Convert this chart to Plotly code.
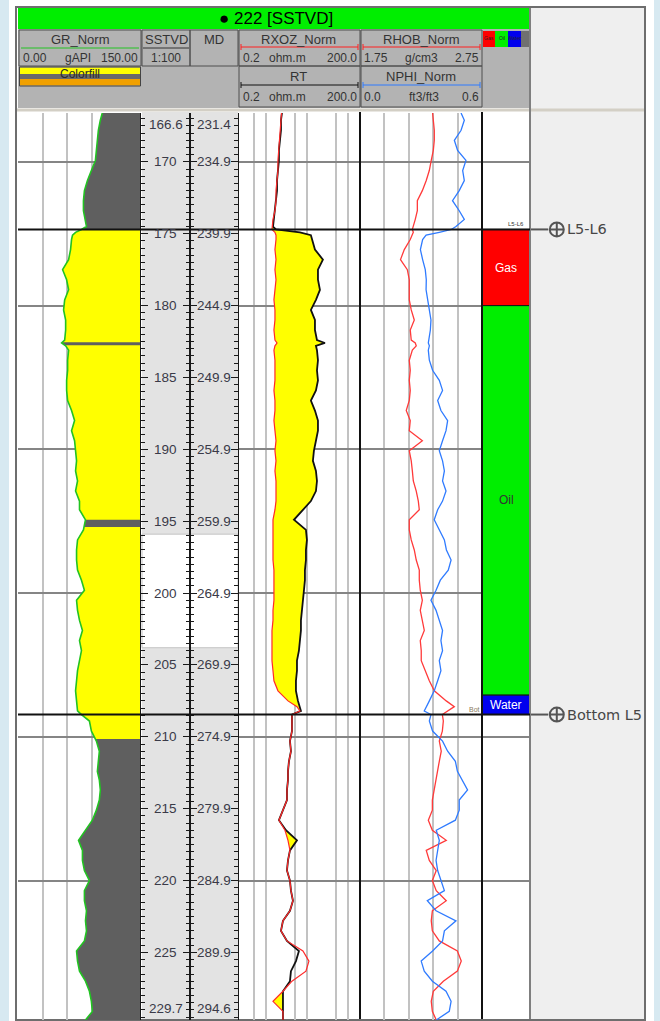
import numpy as np
import plotly.graph_objects as go

W, H = 660, 1021
FONT = "Liberation Sans, Arial, sans-serif"
TXT = "#333333"

# ---------------- log samples (SSTVD, m) ----------------
DEPTH = [166.6, 167.1, 167.8, 168.5, 169.2, 169.9, 170.6, 171.3, 172.0, 172.7,
         173.4, 174.0, 174.5, 174.7, 174.9, 175.1, 175.4, 176.1, 176.8, 177.5,
         178.2, 178.9, 179.6, 180.3, 181.0, 181.7, 182.4, 182.6, 182.8, 183.1,
         183.8, 184.5, 185.2, 185.9, 186.6, 187.3, 188.0, 188.7, 189.4, 190.1,
         190.8, 191.5, 192.2, 192.9, 193.6, 194.2, 194.9, 195.6, 196.3, 197.0,
         197.7, 198.4, 199.1, 199.8, 200.5, 201.2, 201.9, 202.6, 203.3, 204.0,
         204.7, 205.4, 206.1, 206.8, 207.5, 207.9, 208.2, 208.45, 208.9, 209.6,
         210.3, 211.0, 211.7, 212.4, 213.0, 213.7, 214.4, 215.1, 215.8, 216.5,
         217.2, 217.9, 218.6, 219.3, 220.0, 220.7, 221.4, 222.1, 222.8, 223.5,
         224.2, 224.9, 225.6, 226.3, 227.0, 227.7, 228.4, 229.1, 229.7]

GR = [102.8, 100.4, 98.0, 96.8, 95.6, 94.4, 89.5, 84.7, 81.0, 79.8,
      79.8, 82.3, 83.5, 77.4, 70.2, 66.5, 65.3, 64.1, 61.7, 54.4,
      59.3, 61.7, 56.9, 55.6, 58.1, 58.1, 56.9, 53.2, 58.1, 61.7,
      60.5, 60.5, 59.3, 59.3, 60.5, 65.3, 69.0, 65.3, 69.0, 70.2,
      71.4, 70.2, 72.6, 70.2, 75.0, 75.0, 82.3, 79.8, 72.6, 71.4,
      71.4, 72.6, 77.4, 81.0, 71.4, 72.6, 75.0, 78.6, 75.0, 77.4,
      75.0, 72.6, 71.4, 70.2, 71.4, 72.6, 72.6, 77.4, 87.1, 89.5,
      95.6, 99.2, 98.0, 96.8, 99.2, 100.4, 99.2, 95.6, 90.7, 82.3,
      73.8, 78.6, 78.6, 81.0, 87.1, 81.0, 81.0, 83.5, 82.3, 83.5,
      81.0, 71.4, 72.6, 75.0, 82.3, 87.1, 89.5, 90.7, 82.3]

RXOZ = [2.35, 2.28, 2.15, 2.15, 2.03, 1.92, 1.92, 1.82, 1.72, 1.72,
        1.62, 1.45, 1.37, 1.37, 1.62, 1.72, 1.72, 1.62, 1.72, 1.62,
        1.72, 1.62, 1.53, 1.62, 1.62, 1.53, 1.62, 1.82, 1.62, 1.53,
        1.62, 1.62, 1.62, 1.53, 1.62, 1.62, 1.53, 1.62, 1.72, 1.62,
        1.72, 1.62, 1.72, 1.72, 1.72, 1.62, 1.45, 1.45, 1.45, 1.45,
        1.45, 1.53, 1.53, 1.53, 1.53, 1.45, 1.45, 1.37, 1.37, 1.37,
        1.37, 1.45, 1.53, 1.92, 3.39, 5.64, 6.67, 4.24, 4.24, 4.24,
        3.79, 4.01, 3.58, 3.39, 3.39, 3.2, 3.2, 2.55, 2.03, 2.86,
        3.39, 3.79, 3.39, 3.2, 3.79, 4.01, 4.49, 3.79, 2.55, 2.28,
        3.2, 7.91, 11.1, 9.37, 4.24, 2.55, 1.45, 2.55, 2.55]

RT = [2.41, 2.28, 2.28, 2.15, 2.03, 2.03, 1.92, 1.82, 1.82, 1.72,
      1.62, 1.53, 1.45, 1.72, 6.67, 12.4, 13.2, 15.6, 24.5, 18.5,
      18.5, 20.7, 16.5, 12.4, 15.6, 15.6, 17.5, 27.5, 16.5, 17.5,
      18.5, 17.5, 18.5, 16.5, 12.4, 15.6, 18.5, 18.5, 16.5, 14.7,
      13.9, 16.5, 17.5, 16.5, 12.4, 7.91, 4.75, 9.37, 9.91, 9.37,
      9.37, 8.85, 8.85, 8.37, 7.91, 7.47, 7.06, 7.06, 6.67, 6.3,
      5.64, 5.64, 5.32, 5.32, 5.96, 6.67, 7.06, 4.24, 4.24, 4.24,
      3.79, 4.01, 3.58, 3.39, 3.39, 3.2, 3.2, 2.55, 2.03, 3.02,
      5.64, 3.79, 3.39, 3.2, 3.79, 4.01, 4.49, 3.79, 2.55, 2.28,
      3.2, 6.3, 5.32, 4.01, 3.79, 2.55, 2.55, 2.55, 2.55]

RHOB = [2.345, 2.351, 2.359, 2.359, 2.351, 2.334, 2.318, 2.293, 2.261, 2.22,
        2.22, 2.203, 2.187, 2.179, 2.187, 2.179, 2.162, 2.113, 2.082, 2.138,
        2.154, 2.154, 2.154, 2.17, 2.195, 2.162, 2.17, 2.203, 2.211, 2.179,
        2.154, 2.162, 2.154, 2.162, 2.154, 2.129, 2.162, 2.154, 2.261, 2.154,
        2.17, 2.179, 2.187, 2.211, 2.228, 2.236, 2.154, 2.154, 2.17, 2.195,
        2.211, 2.236, 2.236, 2.244, 2.261, 2.244, 2.261, 2.277, 2.244, 2.252,
        2.252, 2.285, 2.318, 2.359, 2.457, 2.523, 2.473, 2.425, 2.433, 2.425,
        2.4, 2.416, 2.4, 2.384, 2.375, 2.359, 2.343, 2.343, 2.31, 2.343,
        2.457, 2.293, 2.318, 2.375, 2.343, 2.375, 2.457, 2.343, 2.334, 2.343,
        2.4, 2.548, 2.58, 2.548, 2.433, 2.351, 2.334, 2.343, 2.375]

NPHI = [0.497, 0.513, 0.497, 0.464, 0.48, 0.521, 0.505, 0.513, 0.488, 0.455,
        0.488, 0.513, 0.472, 0.449, 0.39, 0.325, 0.308, 0.297, 0.308, 0.321,
        0.326, 0.325, 0.333, 0.341, 0.349, 0.346, 0.341, 0.336, 0.341, 0.336,
        0.341, 0.357, 0.39, 0.406, 0.382, 0.398, 0.431, 0.423, 0.406, 0.39,
        0.406, 0.415, 0.406, 0.423, 0.406, 0.382, 0.365, 0.39, 0.415, 0.425,
        0.448, 0.434, 0.395, 0.374, 0.349, 0.374, 0.39, 0.406, 0.398, 0.406,
        0.39, 0.398, 0.382, 0.365, 0.341, 0.326, 0.316, 0.349, 0.341, 0.357,
        0.406, 0.431, 0.469, 0.479, 0.503, 0.529, 0.488, 0.488, 0.469, 0.375,
        0.39, 0.382, 0.374, 0.382, 0.398, 0.415, 0.331, 0.374, 0.472, 0.415,
        0.406, 0.357, 0.301, 0.316, 0.356, 0.423, 0.448, 0.439, 0.375]

# lithology colour-fill intervals (sand) on the GR track
SAND_TOPS = [174.7, 182.75, 195.4]
SAND_BASES = [182.55, 194.9, 210.15]

# fluid zones
ZONE_NAMES = ["Gas", "Oil", "Water"]
ZONE_TOPS = [174.7, 180.0, 207.1]
ZONE_BASES = [180.0, 207.1, 208.45]
ZONE_FILLS = ["#ff0000", "#00ee00", "#0000ee"]
ZONE_FONT = ["white", "#333333", "white"]

# well tops
TOP_NAMES = ["L5-L6", "Bottom L5"]
TOP_TAGS = ["L5-L6", "Bot"]
TOP_DEPTHS = [174.7, 208.45]

# depth ruler labels
SSTVD_TICKS = [166.6, 170, 175, 180, 185, 190, 195, 200, 205, 210, 215, 220, 225, 229.7]
SSTVD_TEXT = ["166.6", "170", "175", "180", "185", "190", "195", "200", "205",
              "210", "215", "220", "225", "229.7"]
MD_TEXT = ["231.4", "234.9", "239.9", "244.9", "249.9", "254.9", "259.9", "264.9",
           "269.9", "274.9", "279.9", "284.9", "289.9", "294.6"]
RULER_CLEAR = [195.9, 203.8]

DEPTH_TOP, DEPTH_BASE = 166.6, 229.7
GR_RANGE = [0, 150]
RES_RANGE = [0.2, 200]
RHOB_RANGE = [1.75, 2.75]
NPHI_RANGE = [0.0, 0.6]


def fx(px):
    return px / W


def fy(py):
    return 1 - py / H


YDOM = [fy(1020), fy(113)]
shapes, annotations = [], []


def rect(x0, y0, x1, y1, fill="rgba(0,0,0,0)", line=None, lw=0, layer="below"):
    shapes.append(dict(type="rect", xref="paper", yref="paper",
                       x0=fx(x0), x1=fx(x1), y0=fy(y1), y1=fy(y0),
                       fillcolor=fill, layer=layer,
                       line=dict(color=line or "rgba(0,0,0,0)", width=lw)))


def seg(x0, y0, x1, y1, color, lw=1, layer="above"):
    shapes.append(dict(type="line", xref="paper", yref="paper",
                       x0=fx(x0), x1=fx(x1), y0=fy(y0), y1=fy(y1),
                       layer=layer, line=dict(color=color, width=lw)))


def label(x, y, s, size=13, color=TXT, anchor="center", family=FONT):
    annotations.append(dict(xref="paper", yref="paper", x=fx(x), y=fy(y), text=s,
                            showarrow=False, xanchor=anchor, yanchor="middle",
                            font=dict(size=size, color=color, family=family)))


# ---------------- page, frame, panels ----------------
rect(0, 0, 9, H, "#d7e9f1")
rect(654, 0, W, H, "#d7e9f1")
rect(16, 7, 645, 1020, "white", "#6e6e6e", 2)
rect(530, 8, 644, 1019, "#efefef")
rect(142, 112, 238, 1019, "#e3e3e3")
shapes.append(dict(type="rect", xref="paper", yref="y2", x0=fx(142), x1=fx(238),
                   y0=RULER_CLEAR[0], y1=RULER_CLEAR[1], fillcolor="white",
                   line=dict(color="#c4c4c4", width=1), layer="below"))

# title bar
rect(18, 8, 530, 29, "#00ee00")
label(276, 19, "● 222 [SSTVD]", 17, "black")

# header block
rect(18, 29, 530, 108, "#b3b3b3")
CELL = "#4f4f4f"
for (a, b, c, d) in [(19, 30, 141, 66), (142, 30, 190, 66), (190, 30, 238, 66),
                     (239, 30, 360, 66), (239, 66, 360, 107),
                     (361, 30, 482, 66), (361, 66, 482, 107)]:
    rect(a, b, c, d, line=CELL, lw=1, layer="above")

# GR header
label(80, 40, "GR_Norm")
seg(21, 48, 139, 48, "#22c322", 1)
label(21, 58, f"{GR_RANGE[0]:.2f}", 12, anchor="left")
label(78, 58, "gAPI", 12)
label(140, 58, f"{GR_RANGE[1]:.2f}", 12, anchor="right")
rect(20, 67.5, 140, 74, "#ffff00")
rect(20, 74, 140, 79, "#6a6a6a")
rect(20, 79, 140, 85.5, "#f0a000")
rect(19.5, 67, 140.5, 86, line="#444444", lw=1, layer="above")
label(80, 74, "Colorfill", 12, "#2a2a2a")

# depth headers
label(166, 40, "SSTVD")
seg(143, 48, 189, 48, "#333333", 1)
label(166, 58, "1:100", 12)
label(214, 40, "MD")


def scale_bar(x0, x1, y, color):
    seg(x0, y, x1, y, color, 1)
    seg(x0, y - 3, x0, y + 3, color, 1)
    seg(x1, y - 3, x1, y + 3, color, 1)


label(298, 40, "RXOZ_Norm")
scale_bar(241, 358, 47, "#ff2020")
label(241, 58, f"{RES_RANGE[0]}", 12, anchor="left")
label(287, 58, "ohm.m", 12)
label(359, 58, f"{RES_RANGE[1]:.1f}", 12, anchor="right")
label(298, 76, "RT")
scale_bar(241, 358, 85, "#111111")
label(241, 97, f"{RES_RANGE[0]}", 12, anchor="left")
label(287, 97, "ohm.m", 12)
label(359, 97, f"{RES_RANGE[1]:.1f}", 12, anchor="right")

label(421, 40, "RHOB_Norm")
scale_bar(363, 480, 47, "#ff2020")
label(362, 58, f"{RHOB_RANGE[0]}", 12, anchor="left")
label(421, 58, "g/cm3", 12)
label(481, 58, f"{RHOB_RANGE[1]}", 12, anchor="right")
label(421, 76, "NPHI_Norm")
scale_bar(363, 480, 85, "#2f7bff")
label(362, 97, f"{NPHI_RANGE[0]}", 12, anchor="left")
label(424, 97, "ft3/ft3", 12)
label(481, 97, f"{NPHI_RANGE[1]}", 12, anchor="right")

# zone legend swatches
sw_x = [483, 495, 508, 521, 529]
for i, col in enumerate(ZONE_FILLS + ["#707070"]):
    rect(sw_x[i], 31, sw_x[i + 1], 47, col, layer="above")
for i, nm in enumerate(ZONE_NAMES):
    label((sw_x[i] + sw_x[i + 1]) / 2, 38, nm, 5, "#222222")

# separator under header
seg(17, 110, 644, 110, "#d3cfc5", 3)

# track borders
seg(360, 112, 360, 1019, "#111111", 2)
seg(482, 112, 482, 1019, "#111111", 2)
seg(530, 8, 530, 1019, "#7f7f7f", 2)
seg(16, 112, 16, 1019, "#6e6e6e", 2)

# well-top lines across all tracks
for d in TOP_DEPTHS:
    shapes.append(dict(type="line", xref="paper", yref="y", x0=fx(18), x1=fx(530),
                       y0=d, y1=d, layer="above", line=dict(color="#111111", width=2)))

# ---------------- traces ----------------
fig = go.Figure()
dep = np.array(DEPTH)
gr = np.array(GR)

# GR shading: shale colour everywhere, sand colour over the sand intervals
fig.add_trace(go.Scatter(x=list(gr) + [GR_RANGE[1], GR_RANGE[1]],
                         y=DEPTH + [DEPTH[-1], DEPTH[0]], fill="toself",
                         fillcolor="#5f5f5f", line=dict(width=0), mode="lines",
                         xaxis="x", yaxis="y", hoverinfo="skip"))
for top, base in zip(SAND_TOPS, SAND_BASES):
    inside = (dep > top) & (dep < base)
    gx = [float(np.interp(top, dep, gr))] + list(gr[inside]) + [float(np.interp(base, dep, gr))]
    gy = [top] + list(dep[inside]) + [base]
    fig.add_trace(go.Scatter(x=[GR_RANGE[1]] + gx + [GR_RANGE[1]],
                             y=[top] + gy + [base], fill="toself",
                             fillcolor="#ffff00", line=dict(width=0), mode="lines",
                             xaxis="x", yaxis="y", hoverinfo="skip"))
fig.add_trace(go.Scatter(x=GR, y=DEPTH, mode="lines",
                         line=dict(color="#22c322", width=1.6),
                         xaxis="x", yaxis="y", hoverinfo="skip"))

# resistivity: yellow where RT reads above RXOZ
rt_hi = np.maximum(np.array(RT), np.array(RXOZ))
fig.add_trace(go.Scatter(x=RXOZ, y=DEPTH, mode="lines", line=dict(width=0),
                         xaxis="x2", yaxis="y", hoverinfo="skip"))
fig.add_trace(go.Scatter(x=rt_hi, y=DEPTH, mode="lines", line=dict(width=0),
                         fill="tonextx", fillcolor="#ffff00",
                         xaxis="x2", yaxis="y", hoverinfo="skip"))
fig.add_trace(go.Scatter(x=RT, y=DEPTH, mode="lines",
                         line=dict(color="#111111", width=1.8),
                         xaxis="x2", yaxis="y", hoverinfo="skip"))
fig.add_trace(go.Scatter(x=RXOZ, y=DEPTH, mode="lines",
                         line=dict(color="#ff2a2a", width=1.2),
                         xaxis="x2", yaxis="y", hoverinfo="skip"))

# density / neutron
fig.add_trace(go.Scatter(x=RHOB, y=DEPTH, mode="lines",
                         line=dict(color="#ff3a3a", width=1.3),
                         xaxis="x3", yaxis="y", hoverinfo="skip"))
fig.add_trace(go.Scatter(x=NPHI, y=DEPTH, mode="lines",
                         line=dict(color="#2f7bff", width=1.3),
                         xaxis="x4", yaxis="y", hoverinfo="skip"))

# fluid zones
for nm, t, b, col, fc in zip(ZONE_NAMES, ZONE_TOPS, ZONE_BASES, ZONE_FILLS, ZONE_FONT):
    fig.add_trace(go.Scatter(x=[0, 1, 1, 0, 0], y=[t, t, b, b, t], fill="toself",
                             fillcolor=col, mode="lines",
                             line=dict(color="#111111", width=1),
                             xaxis="x5", yaxis="y", hoverinfo="skip"))
    annotations.append(dict(xref="x5", yref="y", x=0.5, y=(t + b) / 2, text=nm,
                            showarrow=False, font=dict(size=12, color=fc, family=FONT)))

annotations.append(dict(xref="x5", yref="y", x=0.7, y=TOP_DEPTHS[0], text=TOP_TAGS[0],
                        showarrow=False, yanchor="bottom",
                        font=dict(size=6, color="#333333", family=FONT)))
annotations.append(dict(xref="x5", yref="y", x=0.0, y=TOP_DEPTHS[1], text=TOP_TAGS[1],
                        showarrow=False, yanchor="bottom", xanchor="right",
                        font=dict(size=7, color="#8a7a60", family=FONT)))

# depth ruler labels
n = len(SSTVD_TICKS)
for i, (d, s, m) in enumerate(zip(SSTVD_TICKS, SSTVD_TEXT, MD_TEXT)):
    ya = "top" if i == 0 else ("bottom" if i == n - 1 else "middle")
    for xr, yr, txt in (("x6", "y2", s), ("x7", "y3", m)):
        annotations.append(dict(xref=xr, yref=yr, x=0.5, y=d, text=txt, showarrow=False,
                                yanchor=ya, yshift=(-2 if i == 0 else (2 if i == n - 1 else 0)),
                                font=dict(size=13.5, color="#3a3a48", family=FONT)))
fig.add_trace(go.Scatter(x=[0.5] * n, y=SSTVD_TICKS, mode="markers",
                         marker=dict(opacity=0), xaxis="x6", yaxis="y2", hoverinfo="skip"))
fig.add_trace(go.Scatter(x=[0.5] * n, y=SSTVD_TICKS, mode="markers",
                         marker=dict(opacity=0), xaxis="x7", yaxis="y3", hoverinfo="skip"))

# well-top markers in the side panel
for nm, d in zip(TOP_NAMES, TOP_DEPTHS):
    fig.add_trace(go.Scatter(x=[0, 0.16], y=[d, d], mode="lines",
                             line=dict(color="#555555", width=2),
                             xaxis="x8", yaxis="y4", hoverinfo="skip"))
    fig.add_trace(go.Scatter(x=[0.235], y=[d], mode="markers",
                             marker=dict(symbol="circle-cross-open", size=14,
                                         color="#555555",
                                         line=dict(color="#555555", width=2)),
                             xaxis="x8", yaxis="y4", hoverinfo="skip"))
    annotations.append(dict(xref="x8", yref="y4", x=0.31, y=d, text=nm, showarrow=False,
                            xanchor="left", yanchor="middle",
                            font=dict(size=14.5, color="#474747", family="DejaVu Sans")))

# ---------------- axes ----------------
def track_x(x0, x1, **kw):
    base = dict(domain=[fx(x0), fx(x1)], showticklabels=False, ticks="",
                zeroline=False, showline=False, showgrid=False, fixedrange=True)
    base.update(kw)
    return base


GRID_V = "#c2c2c2"
ruler = dict(range=[DEPTH_BASE, DEPTH_TOP], domain=YDOM, showgrid=False, zeroline=False,
             showline=True, linecolor="#1a1a1a", linewidth=1, mirror="ticks",
             ticks="inside", ticklen=7, tickwidth=1, tickcolor="#1a1a1a",
             tick0=0, dtick=5, showticklabels=False,
             minor=dict(ticks="inside", ticklen=4, tickcolor="#1a1a1a", dtick=0.5,
                        showgrid=False))

fig.update_layout(
    width=W, height=H, margin=dict(l=0, r=0, t=0, b=0, pad=0),
    paper_bgcolor="white", plot_bgcolor="rgba(0,0,0,0)",
    showlegend=False, hovermode=False, font=dict(family=FONT, color=TXT),
    xaxis=track_x(18, 141, range=GR_RANGE, anchor="y", showgrid=True,
                  tickvals=[30, 60, 90, 120], gridcolor=GRID_V, gridwidth=1.5),
    xaxis2=track_x(238, 360, type="log", range=[np.log10(RES_RANGE[0]), np.log10(RES_RANGE[1])],
                   anchor="y", showgrid=True, tickvals=[0.5, 1, 5, 10, 50, 100],
                   gridcolor=GRID_V, gridwidth=1.5),
    xaxis3=track_x(360, 482, range=RHOB_RANGE, anchor="y", showgrid=True,
                   tickvals=[1.95, 2.15, 2.35, 2.55], gridcolor=GRID_V, gridwidth=1.5),
    xaxis4=track_x(360, 482, range=NPHI_RANGE, anchor="y", overlaying="x3"),
    xaxis5=track_x(482, 530, range=[0, 1], anchor="y"),
    xaxis6=track_x(141, 190, range=[0, 1], anchor="y2"),
    xaxis7=track_x(190, 238, range=[0, 1], anchor="y3"),
    xaxis8=track_x(530, 644, range=[0, 1], anchor="y4"),
    yaxis=dict(range=[DEPTH_BASE, DEPTH_TOP], domain=YDOM, anchor="x",
               showticklabels=False, ticks="", zeroline=False, showline=False,
               showgrid=True, tickvals=[170, 180, 190, 200, 210, 220],
               gridcolor="#858585", gridwidth=1.6, fixedrange=True),
    yaxis2=dict(ruler, anchor="x6"),
    yaxis3=dict(ruler, anchor="x7"),
    yaxis4=dict(range=[DEPTH_BASE, DEPTH_TOP], domain=YDOM, anchor="x8",
                showticklabels=False, ticks="", zeroline=False, showline=False,
                showgrid=False),
    shapes=shapes, annotations=annotations,
)

fig.write_html("out.html")
